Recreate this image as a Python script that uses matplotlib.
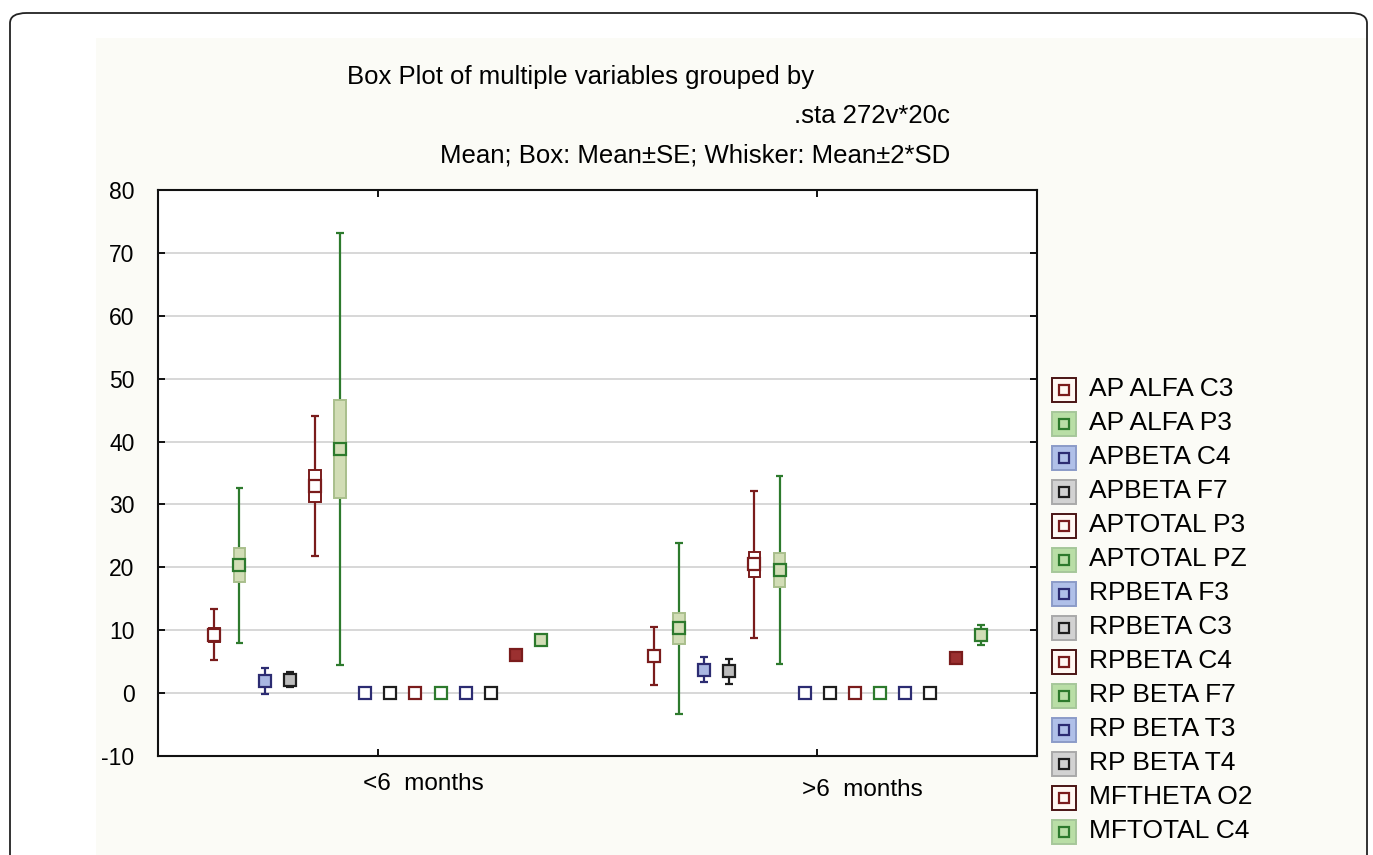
import matplotlib
matplotlib.use("Agg")
import matplotlib.pyplot as plt
from matplotlib.patches import Rectangle, FancyBboxPatch
from matplotlib.transforms import blended_transform_factory

plt.rcParams['font.family'] = ['Liberation Sans', 'DejaVu Sans']
plt.rcParams['axes.unicode_minus'] = False

# variables and groups
variables = ["AP ALFA C3", "AP ALFA P3", "APBETA C4", "APBETA F7", "APTOTAL P3",
             "APTOTAL PZ", "RPBETA F3", "RPBETA C3", "RPBETA C4", "RP BETA F7",
             "RP BETA T3", "RP BETA T4", "MFTHETA O2", "MFTOTAL C4"]
groups = ["<6  months", ">6  months"]

# mean, standard error, standard deviation per group
mean_lt6 = [9.3, 20.3, 1.9, 2.1, 32.9, 38.8, 0.02, 0.02, 0.02, 0.02, 0.02, 0.02, 6.0, 8.5]
se_lt6 = [1.1, 2.7, 0.8, 0.8, 2.55, 7.75, 0.02, 0.02, 0.02, 0.02, 0.02, 0.02, 0.5, 0.5]
sd_lt6 = [2.05, 6.15, 1.05, 0.6, 5.55, 17.2, 0.04, 0.04, 0.04, 0.04, 0.04, 0.04, 0.4, 0.4]

mean_gt6 = [5.9, 10.3, 3.7, 3.5, 20.5, 19.6, 0.02, 0.02, 0.02, 0.02, 0.02, 0.02, 5.6, 9.3]
se_gt6 = [0.95, 2.45, 0.95, 0.85, 2.0, 2.65, 0.02, 0.02, 0.02, 0.02, 0.02, 0.02, 0.5, 0.9]
sd_gt6 = [2.3, 6.8, 1.0, 1.0, 5.85, 7.5, 0.04, 0.04, 0.04, 0.04, 0.04, 0.04, 0.3, 0.8]

# colour cycle: brown, green, blue, grey
edge_cols = ['#7a1c1c', '#2d7a2d', '#2c2c72', '#1e1e1e']
box_fill = ['#ffffff', '#d2ddb6', '#a9b7e2', '#bcbcbc']
box_edge = ['#7a1c1c', '#a9bf8c', '#2c2c72', '#1e1e1e']
leg_fill = ['#fff8f3', '#b9dea6', '#b0c0e8', '#d2d2d2']
leg_edge = ['#4a1414', '#a6c79a', '#8b9bc8', '#a9a9a9']

W, H = 1373, 855
fig = plt.figure(figsize=(W / 100, H / 100), dpi=100)
fig.patch.set_facecolor('white')

def px(x, y):
    return x / W, 1 - y / H

# frame and background panel
frame = FancyBboxPatch(px(10, 900), 1357 / W, (900 - 13) / H,
                       boxstyle="round,pad=0,rounding_size=0.012",
                       transform=fig.transFigure, fc='white', ec='#222222', lw=1.3,
                       zorder=-10)
fig.patches.append(frame)
fig.patches.append(Rectangle(px(96, 855), (1366 - 96) / W, (855 - 38) / H,
                             transform=fig.transFigure, fc='#fbfbf6', ec='none',
                             zorder=-9))

ax = fig.add_axes([158 / W, 1 - 756 / H, 879 / W, (756 - 190) / H])
ax.set_facecolor('white')
ax.set_xlim(0.5, 2.5)
ax.set_ylim(-10, 80)
ax.set_yticks(range(-10, 81, 10))
ax.set_xticks([1, 2])
ax.set_xticklabels([])
ax.yaxis.grid(True, color='#d4d4d4', lw=1.3)
ax.set_axisbelow(True)
ax.tick_params(direction='in', length=5, width=1.3, top=True, right=True,
               labelsize=16.5, pad=17, colors='black')
for s in ax.spines.values():
    s.set_linewidth(1.5)
    s.set_color('#111111')

step = 0.0572
bw = 0.026
cap = 0.018
for g, (means, ses, sds) in enumerate([(mean_lt6, se_lt6, sd_lt6),
                                       (mean_gt6, se_gt6, sd_gt6)]):
    for i, name in enumerate(variables):
        c = i % 4
        x = g + 1 + (i - 6.5) * step
        m, se, sd = means[i], ses[i], sds[i]
        lo, hi = m - 2 * sd, m + 2 * sd
        ax.vlines(x, lo, hi, color=edge_cols[c], lw=1.6, zorder=2)
        ax.hlines([lo, hi], x - cap / 2, x + cap / 2, color=edge_cols[c], lw=1.6, zorder=2)
        ax.add_patch(Rectangle((x - bw / 2, m - se), bw, 2 * se, fc=box_fill[c],
                               ec=box_edge[c], lw=1.4, zorder=3))
        # mean marker; empty when the box collapses under it
        face = box_fill[c] if se > 0.1 else 'white'
        if name.startswith("MFTHETA"):
            face = '#9b3030'
        ax.plot(x, m, 's', ms=8.8, mfc=face, mec=edge_cols[c], mew=1.6, zorder=4)

# category labels
tr = blended_transform_factory(ax.transData, fig.transFigure)
for g, lab in enumerate(groups):
    yy = 784 if g == 0 else 790
    ax.text(g + 1 - 15 / 440, 1 - yy / H, lab, transform=tr, ha='left', va='center',
            fontsize=17.5)

# titles
fig.text(*px(581, 77), "Box Plot of multiple variables grouped by", ha='center',
         va='center', fontsize=18.5)
fig.text(*px(950, 116), ".sta 272v*20c", ha='right', va='center', fontsize=18.5)
fig.text(*px(950, 155), "Mean; Box: Mean±SE; Whisker: Mean±2*SD", ha='right',
         va='center', fontsize=18.5)

# legend
for i, name in enumerate(variables):
    c = i % 4
    yc = 390 + 34 * i
    fig.patches.append(Rectangle(px(1052, yc + 12), 24 / W, 24 / H, transform=fig.transFigure,
                                 fc=leg_fill[c], ec=leg_edge[c], lw=1.4))
    fig.patches.append(Rectangle(px(1059, yc + 5), 10 / W, 10 / H, transform=fig.transFigure,
                                 fc=leg_fill[c], ec=edge_cols[c], lw=1.6))
    fig.text(*px(1089, yc - 1), name, ha='left', va='center', fontsize=19)

fig.savefig("out.png", dpi=100)
